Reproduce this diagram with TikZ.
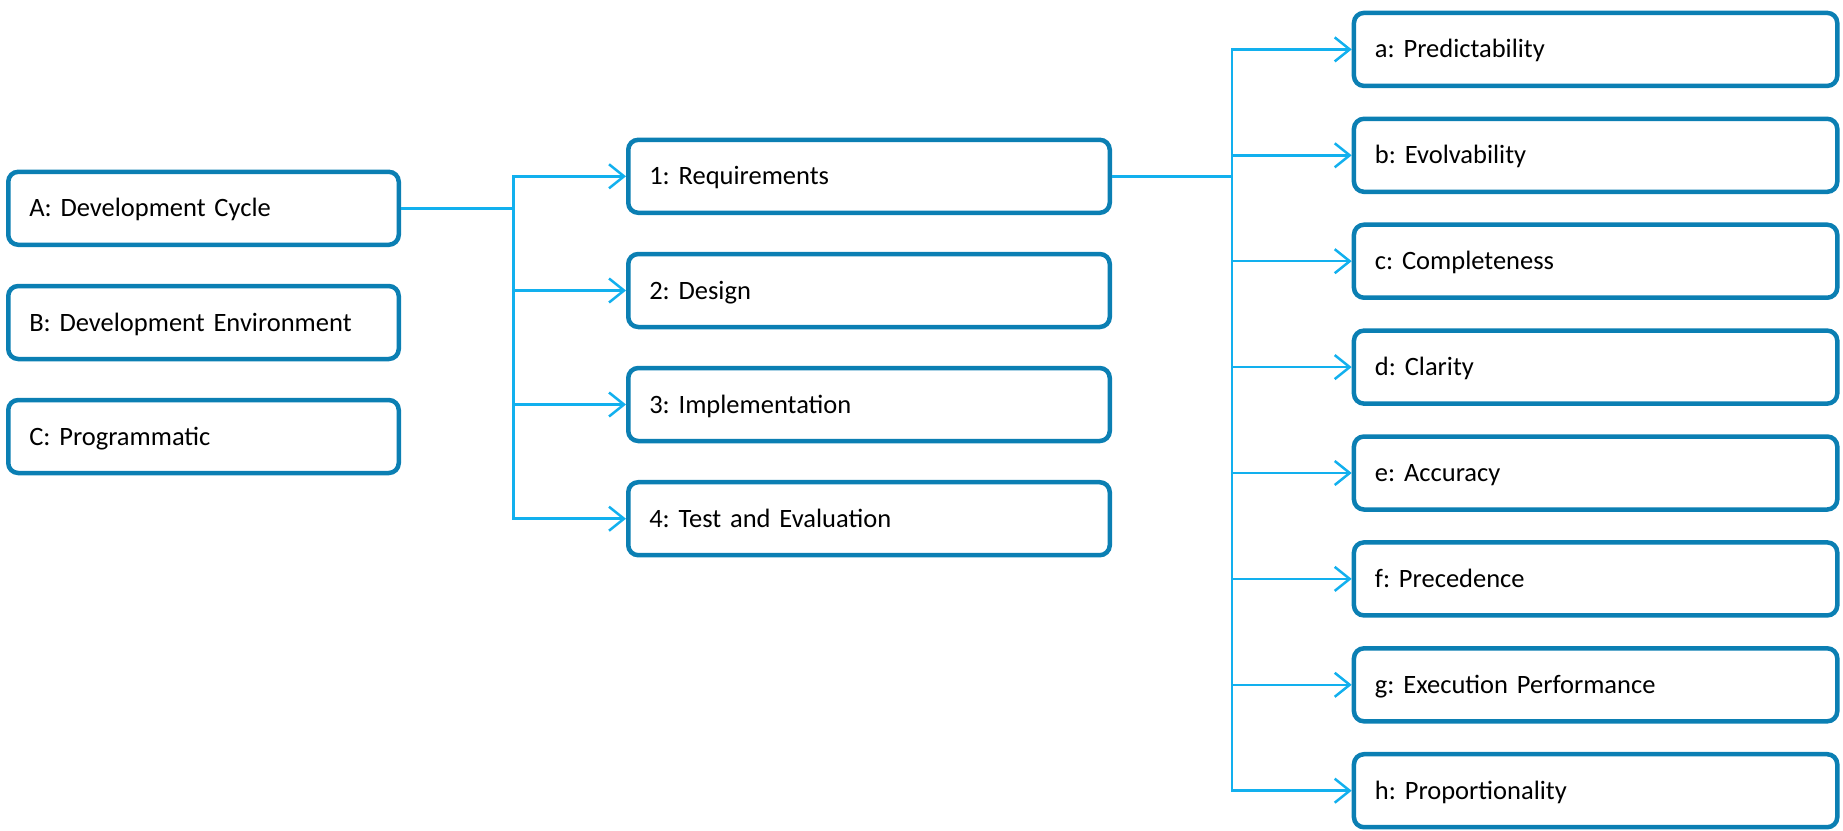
\documentclass[tikz,border=0pt]{standalone}
\usepackage{fontspec}
\setmainfont{Carlito}
\frenchspacing
\usetikzlibrary{arrows.meta}
\definecolor{boxblue}{HTML}{0B7FB3}
\definecolor{linkblue}{HTML}{12B0EE}
\tikzset{
  box/.style={draw=boxblue, line width=4.5pt, rounded corners=10pt, fill=white,
    inner xsep=21pt, inner ysep=0pt, minimum height=73pt, align=left,
    text height=20pt, text depth=3pt, font=\fontsize{26.5}{30}\selectfont\frenchspacing, anchor=center},
  lbox/.style={box, text width=348.5pt},
  mbox/.style={box, text width=439.5pt},
  rbox/.style={box, text width=441.3pt},
  conn/.style={draw=linkblue, line width=2.5pt},
  trunk/.style={conn, line cap=rect},
  arr/.style={conn, -{Straight Barb[length=15pt,width=24pt]}},
}
\begin{document}
\begin{tikzpicture}[x=1pt, y=-1pt]
\useasboundingbox (0,0) rectangle (1843,830);
% left column
\node[lbox] (A) at (203.5,208.3) {A: Development Cycle};
\node[lbox] (B) at (203.5,322.5) {B: Development Environment};
\node[lbox] (C) at (203.5,436.5) {C: Programmatic};
% middle column
\node[mbox] (m1) at (869,176.3) {1: Requirements};
\node[mbox] (m2) at (869,290.5) {2: Design};
\node[mbox] (m3) at (869,404.5) {3: Implementation};
\node[mbox] (m4) at (869,518.7) {4: Test and Evaluation};
% right column
\node[rbox] (ra) at (1595.6,49.4) {a: Predictability};
\node[rbox] (rb) at (1595.6,155.3) {b: Evolvability};
\node[rbox] (rc) at (1595.6,261.2) {c: Completeness};
\node[rbox] (rd) at (1595.6,367.1) {d: Clarity};
\node[rbox] (re) at (1595.6,473.0) {e: Accuracy};
\node[rbox] (rf) at (1595.6,578.9) {f: Precedence};
\node[rbox] (rg) at (1595.6,684.8) {g: Execution Performance};
\node[rbox] (rh) at (1595.6,790.7) {h: Proportionality};
% trunks
\coordinate (t1) at (513.6,0);
\coordinate (t2) at (1232,0);
\draw[conn] (A.east) -- (A.east -| t1);
\draw[trunk] (m1.west -| t1) -- (m4.west -| t1);
\foreach \n in {m1,m2,m3,m4} \draw[arr] (\n.west -| t1) -- (\n.west);
\draw[conn] (m1.east) -- (m1.east -| t2);
\draw[trunk] (ra.west -| t2) -- (rh.west -| t2);
\foreach \n in {ra,rb,rc,rd,re,rf,rg,rh} \draw[arr] (\n.west -| t2) -- (\n.west);
\end{tikzpicture}
\end{document}
